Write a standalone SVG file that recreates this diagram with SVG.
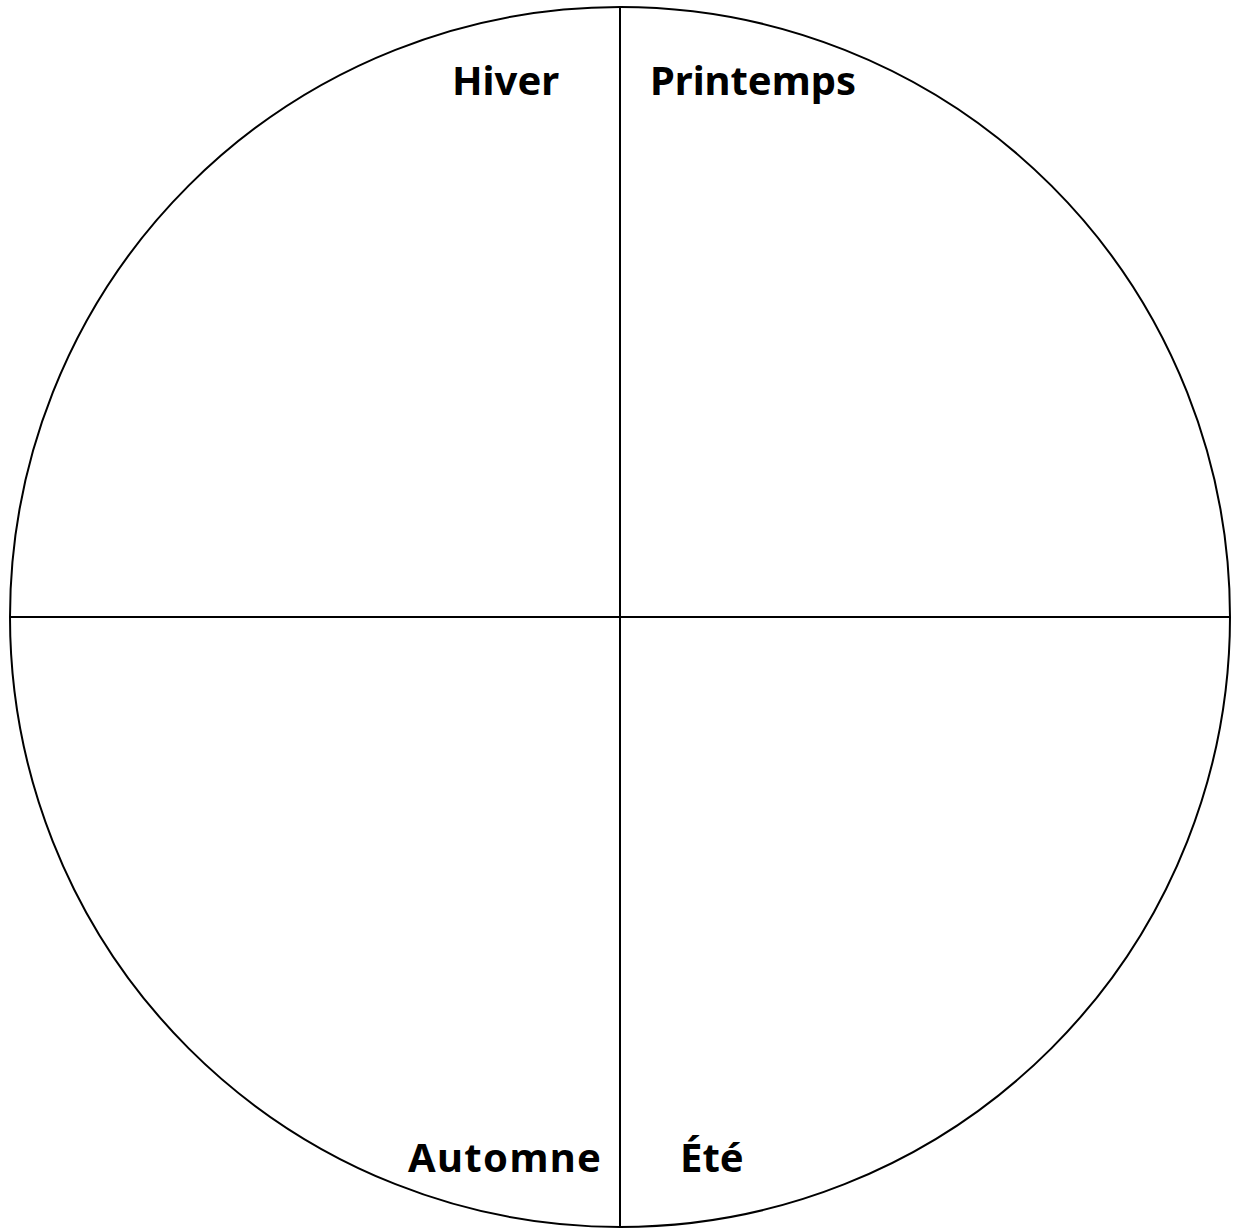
<svg xmlns="http://www.w3.org/2000/svg" width="1233" height="1228" viewBox="0 0 1233 1228">
<style>
.lbl{font-family:"Noto Sans","Open Sans","Liberation Sans",sans-serif;font-weight:bold;font-size:40px;fill:#000}
.ln{stroke:#000;stroke-width:2;fill:none}
</style>
<rect width="1233" height="1228" fill="#fff"/>
<g id="circle"><circle class="ln" cx="620" cy="617" r="610"/></g>
<g id="connectors">
<line class="ln" x1="620" y1="7" x2="620" y2="1227"/>
<line class="ln" x1="10" y1="617" x2="1230" y2="617"/>
</g>
<g id="hiver"><text class="lbl" x="452" y="95">Hiver</text></g>
<g id="printemps"><text class="lbl" x="650" y="95" textLength="206">Printemps</text></g>
<g id="automne"><text class="lbl" x="408" y="1172" textLength="193">Automne</text></g>
<g id="ete"><text class="lbl" x="680" y="1172">Été</text></g>
</svg>
